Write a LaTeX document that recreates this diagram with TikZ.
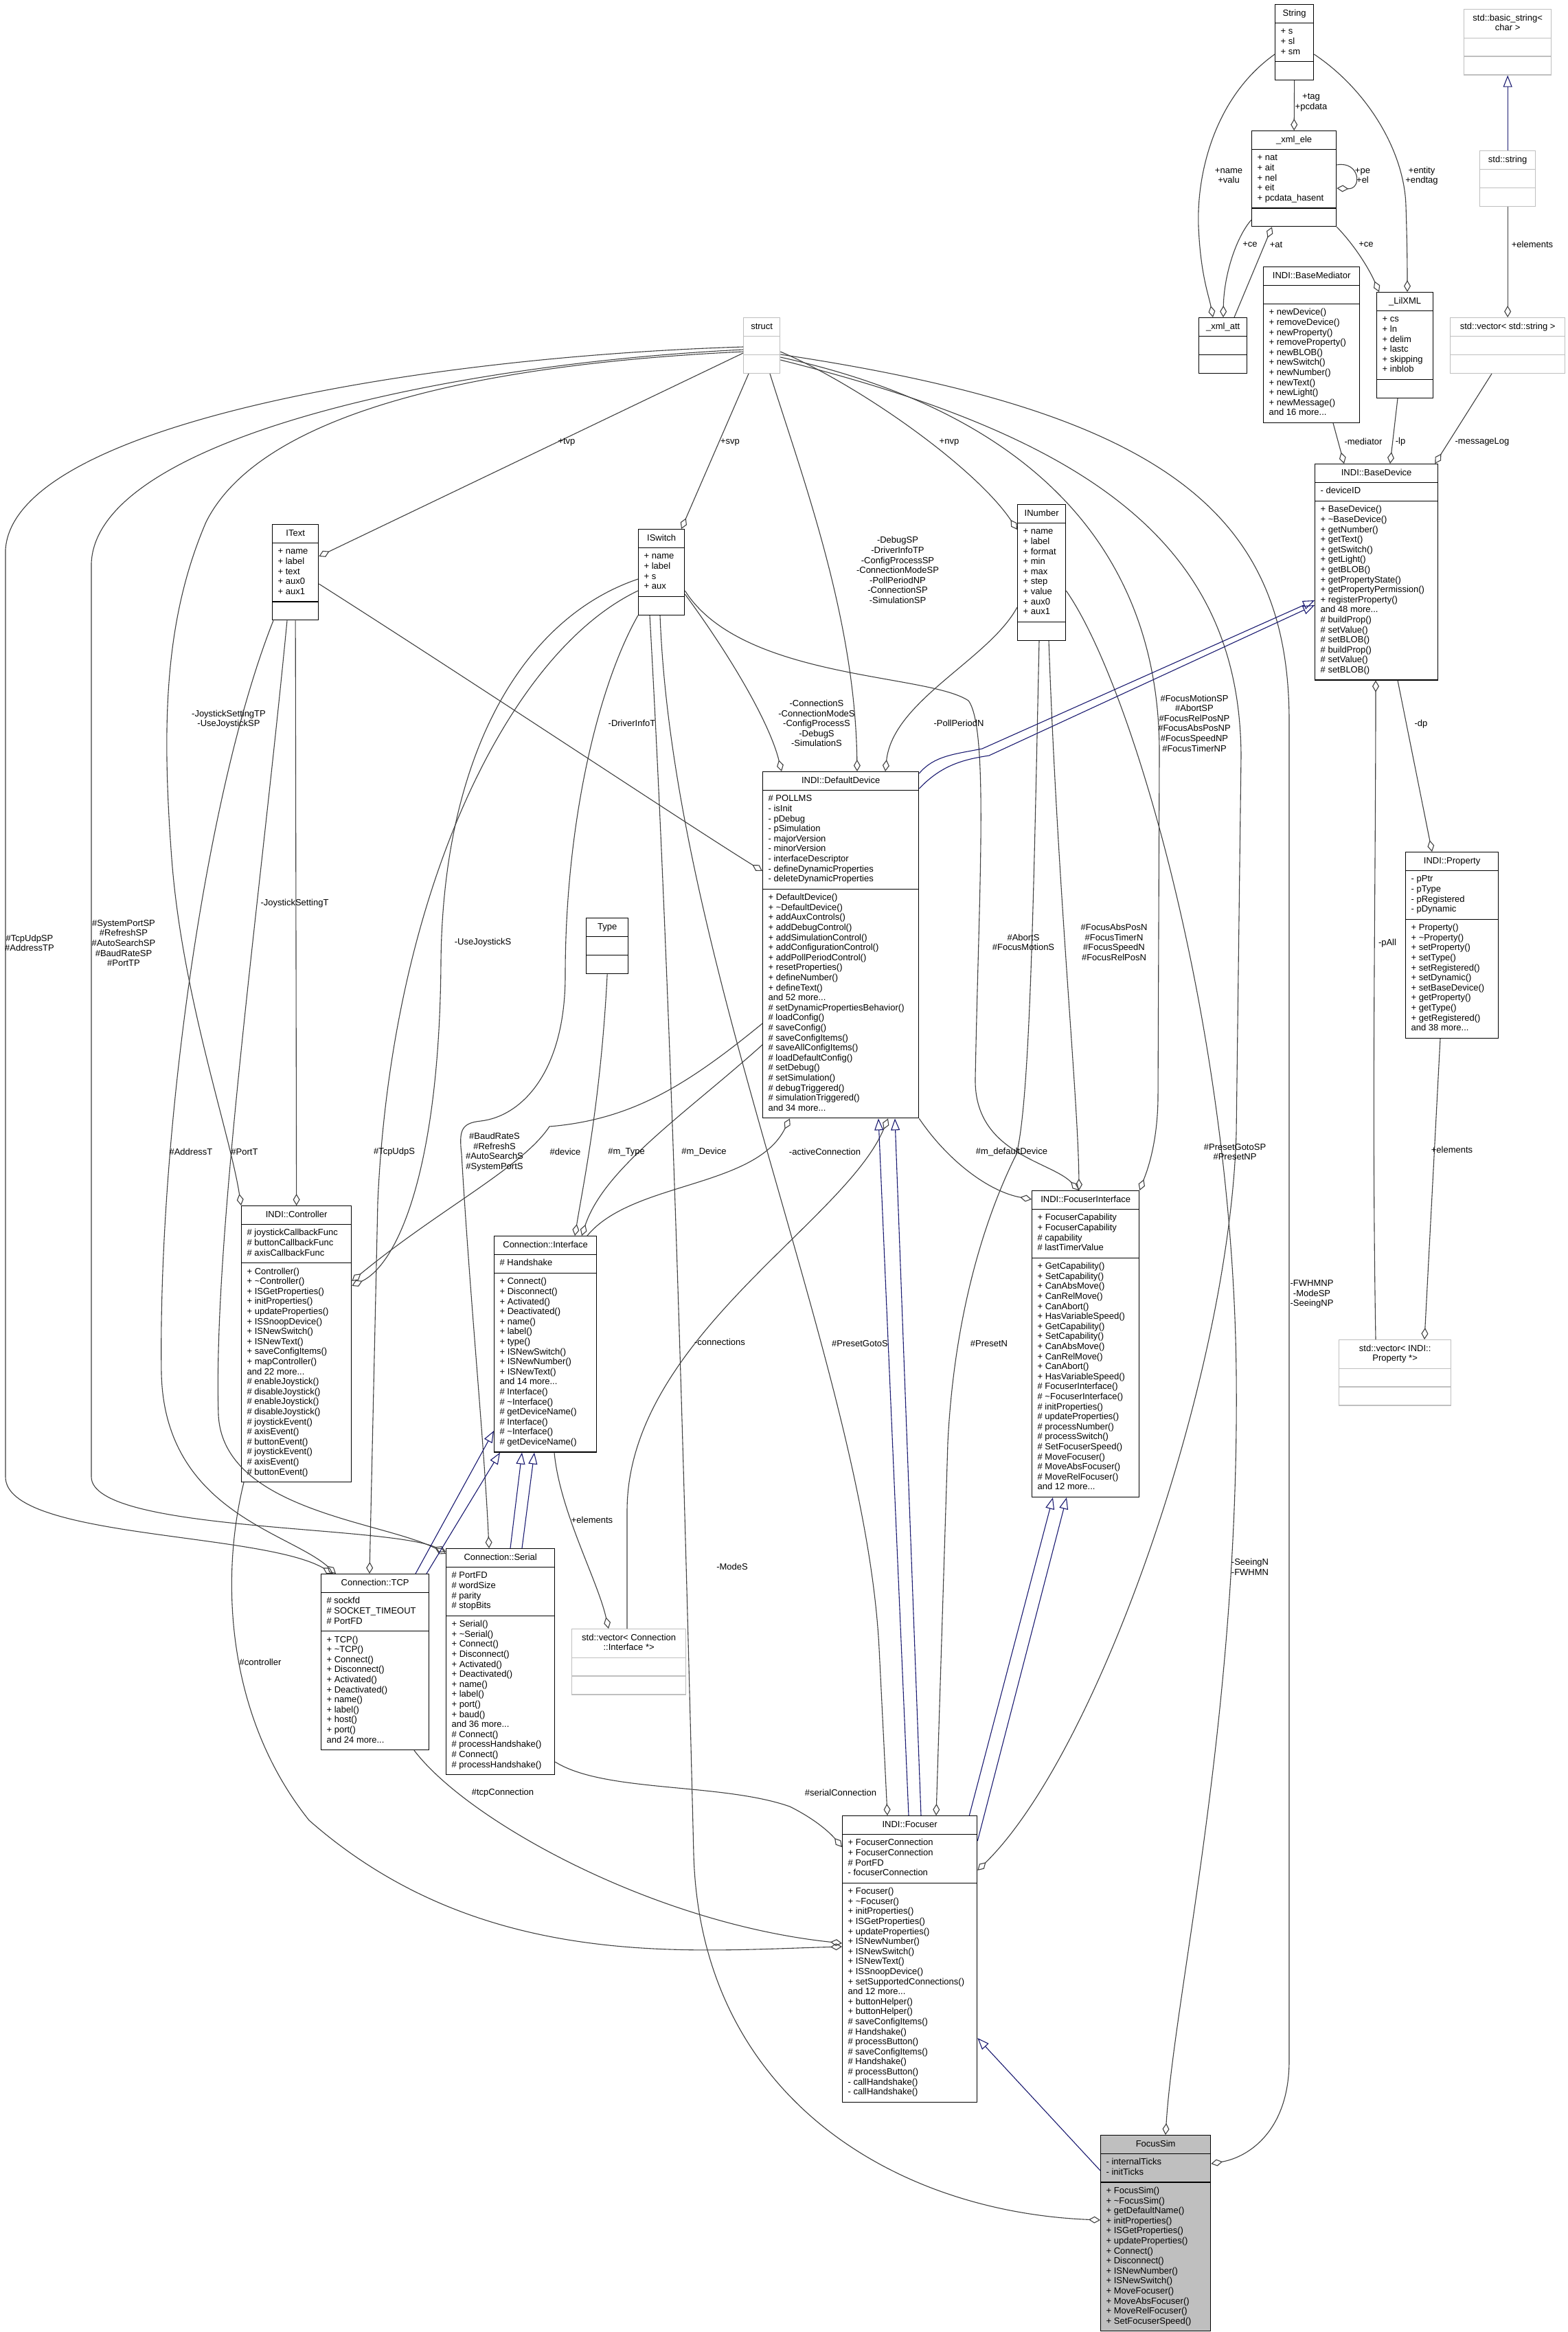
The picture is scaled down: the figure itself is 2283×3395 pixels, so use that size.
\documentclass[tikz,border=0pt]{standalone}
\usepackage{fontspec}
\setmainfont{Liberation Sans}
\usetikzlibrary{shapes.multipart, arrows.meta, positioning}
\definecolor{edgegray}{RGB}{64, 64, 64}
\definecolor{undoc}{RGB}{191, 191, 191}
\definecolor{inhblue}{RGB}{25, 25, 112}
\definecolor{simfill}{RGB}{191, 191, 191}
\newcommand{\clsfont}{\fontsize{13}{14.6}\selectfont}
\newcommand{\tld}{\textasciitilde}

\tikzset{
    classbox/.style={rectangle split, rectangle split parts=3, rectangle split part align={center,left,left}, draw=black, line width=1.3pt, fill=white, anchor=north west, inner xsep=8pt, inner ysep=5.5pt, align=left, font=\clsfont},
    extbox/.style={classbox, draw=undoc},
    simbox/.style={classbox, fill=simfill},
    member/.style={draw=edgegray, line width=1.1pt, -{Diamond[open, length=17pt, width=10pt]}},
    inherit/.style={draw=inhblue, line width=1.1pt, -{Triangle[open, length=17pt, width=13pt]}},
    role/.style={font=\clsfont, align=center, inner sep=0pt}
}

\begin{document}
\begin{tikzpicture}[x=1pt, y=-1pt]
    \useasboundingbox (0,0) rectangle (2283,3395);
    \fill[white] (0,0) rectangle (2283,3395);

    % Classes, top row
    \node[classbox, minimum width=56pt] (string) at (1856,6) {\strut String \nodepart{two}\strut + s\\+ sl\\+ sm\strut \nodepart{three}\strut};
    \node[classbox, minimum width=123pt] (xmlele) at (1822,190) {\strut \_xml\_ele \nodepart{two}\strut + nat\\+ ait\\+ nel\\+ eit\\+ pcdata\_hasent\strut \nodepart{three}\strut};
    \node[classbox, minimum width=70pt] (xmlatt) at (1745,462) {\strut \_xml\_att \nodepart{two}\strut \nodepart{three}\strut};
    \node[classbox, minimum width=140pt] (basemediator) at (1839,388) {\strut INDI::BaseMediator \nodepart{two}\strut \nodepart{three}\strut + newDevice()\\+ removeDevice()\\+ newProperty()\\+ removeProperty()\\+ newBLOB()\\+ newSwitch()\\+ newNumber()\\+ newText()\\+ newLight()\\+ newMessage()\\and 16 more...\strut};
    \node[classbox, minimum width=82pt] (lilxml) at (2004,425) {\strut \_LilXML \nodepart{two}\strut + cs\\+ ln\\+ delim\\+ lastc\\+ skipping\\+ inblob\strut \nodepart{three}\strut};
    \node[extbox, align=center, minimum width=127pt] (basicstring) at (2131,13) {\strut std::basic\_string<\\char >\strut \nodepart{two}\strut \nodepart{three}\strut};
    \node[extbox, minimum width=81pt] (stdstring) at (2154,219) {\strut std::string \nodepart{two}\strut \nodepart{three}\strut};
    \node[extbox, minimum width=167pt] (vecstring) at (2111,462) {\strut std::vector< std::string > \nodepart{two}\strut \nodepart{three}\strut};
    \node[extbox, minimum width=53pt] (struct) at (1082,462) {\strut struct \nodepart{two}\strut \nodepart{three}\strut};

    % Property classes
    \node[classbox, minimum width=67pt] (itext) at (396,763) {\strut IText \nodepart{two}\strut + name\\+ label\\+ text\\+ aux0\\+ aux1\strut \nodepart{three}\strut};
    \node[classbox, minimum width=67pt] (iswitch) at (929,770) {\strut ISwitch \nodepart{two}\strut + name\\+ label\\+ s\\+ aux\strut \nodepart{three}\strut};
    \node[classbox, minimum width=70pt] (inumber) at (1481,734) {\strut INumber \nodepart{two}\strut + name\\+ label\\+ format\\+ min\\+ max\\+ step\\+ value\\+ aux0\\+ aux1\strut \nodepart{three}\strut};

    \node[classbox, minimum width=179pt] (basedevice) at (1914,675) {\strut INDI::BaseDevice \nodepart{two}\strut - deviceID \nodepart{three}\strut + BaseDevice()\\+ \tld BaseDevice()\\+ getNumber()\\+ getText()\\+ getSwitch()\\+ getLight()\\+ getBLOB()\\+ getPropertyState()\\+ getPropertyPermission()\\+ registerProperty()\\and 48 more...\\\# buildProp()\\\# setValue()\\\# setBLOB()\\\# buildProp()\\\# setValue()\\\# setBLOB()\strut};
    \node[classbox, minimum width=135pt] (property) at (2046,1240) {\strut INDI::Property \nodepart{two}\strut - pPtr\\- pType\\- pRegistered\\- pDynamic\strut \nodepart{three}\strut + Property()\\+ \tld Property()\\+ setProperty()\\+ setType()\\+ setRegistered()\\+ setDynamic()\\+ setBaseDevice()\\+ getProperty()\\+ getType()\\+ getRegistered()\\and 38 more...\strut};
    \node[extbox, align=center, minimum width=163pt] (vecproperty) at (1949,1950) {\strut std::vector< INDI::\\Property *>\strut \nodepart{two}\strut \nodepart{three}\strut};

    \node[classbox, minimum width=227pt] (defaultdevice) at (1110,1123) {\strut INDI::DefaultDevice \nodepart{two}\strut \# POLLMS\\- isInit\\- pDebug\\- pSimulation\\- majorVersion\\- minorVersion\\- interfaceDescriptor\\- defineDynamicProperties\\- deleteDynamicProperties\strut \nodepart{three}\strut + DefaultDevice()\\+ \tld DefaultDevice()\\+ addAuxControls()\\+ addDebugControl()\\+ addSimulationControl()\\+ addConfigurationControl()\\+ addPollPeriodControl()\\+ resetProperties()\\+ defineNumber()\\+ defineText()\\and 52 more...\\\# setDynamicPropertiesBehavior()\\\# loadConfig()\\\# saveConfig()\\\# saveConfigItems()\\\# saveAllConfigItems()\\\# loadDefaultConfig()\\\# setDebug()\\\# setSimulation()\\\# debugTriggered()\\\# simulationTriggered()\\and 34 more...\strut};
    \node[classbox, minimum width=61pt] (type) at (853,1336) {\strut Type \nodepart{two}\strut \nodepart{three}\strut};

    % Middle row
    \node[classbox, minimum width=160pt] (controller) at (351,1755) {\strut INDI::Controller \nodepart{two}\strut \# joystickCallbackFunc\\\# buttonCallbackFunc\\\# axisCallbackFunc\strut \nodepart{three}\strut + Controller()\\+ \tld Controller()\\+ ISGetProperties()\\+ initProperties()\\+ updateProperties()\\+ ISSnoopDevice()\\+ ISNewSwitch()\\+ ISNewText()\\+ saveConfigItems()\\+ mapController()\\and 22 more...\\\# enableJoystick()\\\# disableJoystick()\\\# enableJoystick()\\\# disableJoystick()\\\# joystickEvent()\\\# axisEvent()\\\# buttonEvent()\\\# joystickEvent()\\\# axisEvent()\\\# buttonEvent()\strut};
    \node[classbox, minimum width=149pt] (interface) at (719,1799) {\strut Connection::Interface \nodepart{two}\strut \# Handshake \nodepart{three}\strut + Connect()\\+ Disconnect()\\+ Activated()\\+ Deactivated()\\+ name()\\+ label()\\+ type()\\+ ISNewSwitch()\\+ ISNewNumber()\\+ ISNewText()\\and 14 more...\\\# Interface()\\\# \tld Interface()\\\# getDeviceName()\\\# Interface()\\\# \tld Interface()\\\# getDeviceName()\strut};
    \node[classbox, minimum width=156pt] (focuserinterface) at (1502,1733) {\strut INDI::FocuserInterface \nodepart{two}\strut + FocuserCapability\\+ FocuserCapability\\\# capability\\\# lastTimerValue\strut \nodepart{three}\strut + GetCapability()\\+ SetCapability()\\+ CanAbsMove()\\+ CanRelMove()\\+ CanAbort()\\+ HasVariableSpeed()\\+ GetCapability()\\+ SetCapability()\\+ CanAbsMove()\\+ CanRelMove()\\+ CanAbort()\\+ HasVariableSpeed()\\\# FocuserInterface()\\\# \tld FocuserInterface()\\\# initProperties()\\\# updateProperties()\\\# processNumber()\\\# processSwitch()\\\# SetFocuserSpeed()\\\# MoveFocuser()\\\# MoveAbsFocuser()\\\# MoveRelFocuser()\\and 12 more...\strut};

    % Connections
    \node[classbox, minimum width=157pt] (tcp) at (467,2291) {\strut Connection::TCP \nodepart{two}\strut \# sockfd\\\# SOCKET\_TIMEOUT\\\# PortFD\strut \nodepart{three}\strut + TCP()\\+ \tld TCP()\\+ Connect()\\+ Disconnect()\\+ Activated()\\+ Deactivated()\\+ name()\\+ label()\\+ host()\\+ port()\\and 24 more...\strut};
    \node[classbox, minimum width=158pt] (serial) at (649,2254) {\strut Connection::Serial \nodepart{two}\strut \# PortFD\\\# wordSize\\\# parity\\\# stopBits\strut \nodepart{three}\strut + Serial()\\+ \tld Serial()\\+ Connect()\\+ Disconnect()\\+ Activated()\\+ Deactivated()\\+ name()\\+ label()\\+ port()\\+ baud()\\and 36 more...\\\# Connect()\\\# processHandshake()\\\# Connect()\\\# processHandshake()\strut};
    \node[extbox, align=center, minimum width=166pt] (vecconn) at (832,2371) {\strut std::vector< Connection\\::Interface *>\strut \nodepart{two}\strut \nodepart{three}\strut};

    % Focuser and simulator
    \node[classbox, minimum width=196pt] (focuser) at (1226,2643) {\strut INDI::Focuser \nodepart{two}\strut + FocuserConnection\\+ FocuserConnection\\\# PortFD\\- focuserConnection\strut \nodepart{three}\strut + Focuser()\\+ \tld Focuser()\\+ initProperties()\\+ ISGetProperties()\\+ updateProperties()\\+ ISNewNumber()\\+ ISNewSwitch()\\+ ISNewText()\\+ ISSnoopDevice()\\+ setSupportedConnections()\\and 12 more...\\+ buttonHelper()\\+ buttonHelper()\\\# saveConfigItems()\\\# Handshake()\\\# processButton()\\\# saveConfigItems()\\\# Handshake()\\\# processButton()\\- callHandshake()\\- callHandshake()\strut};
    \node[simbox, minimum width=160pt] (focussim) at (1602,3108) {\strut FocusSim \nodepart{two}\strut - internalTicks\\- initTicks\strut \nodepart{three}\strut + FocusSim()\\+ \tld FocusSim()\\+ getDefaultName()\\+ initProperties()\\+ ISGetProperties()\\+ updateProperties()\\+ Connect()\\+ Disconnect()\\+ ISNewNumber()\\+ ISNewSwitch()\\+ MoveFocuser()\\+ MoveAbsFocuser()\\+ MoveRelFocuser()\\+ SetFocuserSpeed()\strut};

    % XML helpers
    \draw[member] (string.south) -- (xmlele.north);
    \draw[member] ([yshift=-73pt]string.north west) .. controls (1770,140) and (1742,250) .. (1745,330) .. controls (1748,400) and (1760,430) .. ([xshift=21pt]xmlatt.north west);
    \draw[member] ([yshift=-73pt]string.north east) .. controls (1990,130) and (2045,220) .. (2047,300) .. controls (2049,360) and (2049,400) .. ([xshift=45pt]lilxml.north west);
    \draw[member] ([yshift=-50pt]xmlele.north east) .. controls (1980,234) and (1984,276) .. ([yshift=-84pt]xmlele.north east);
    \draw[member] ([yshift=-130pt]xmlele.north west) .. controls (1800,345) and (1782,400) .. ([xshift=36pt]xmlatt.north west);
    \draw[member] ([xshift=52pt]xmlatt.north west) -- ([xshift=30pt]xmlele.south west);
    \draw[member] (xmlele.south east) .. controls (1975,360) and (1995,395) .. ([xshift=4pt]lilxml.north west);
    \draw[inherit] (stdstring.north) -- (basicstring.south);
    \draw[member] (stdstring.south) -- (vecstring.north);

    % BaseDevice and Property
    \draw[member] ([xshift=102pt]basemediator.south west) -- ([xshift=43pt]basedevice.north west);
    \draw[member] ([xshift=31pt]lilxml.south west) -- ([xshift=110pt]basedevice.north west);
    \draw[member] ([xshift=61pt]vecstring.south west) -- ([xshift=-5pt]basedevice.north east);
    \draw[member] ([xshift=54pt]vecproperty.north west) .. controls (1997,1600) and (2003,1300) .. ([xshift=89pt]basedevice.south west);
    \draw[member] ([xshift=121pt]basedevice.south west) -- ([xshift=39pt]property.north west);
    \draw[member] ([xshift=51pt]property.south west) -- ([xshift=125pt]vecproperty.north west);

    % from struct
    \draw[member] ([yshift=-52pt]struct.north west) -- ([yshift=-47pt]itext.north east);
    \draw[member] ([xshift=8pt]struct.south west) -- ([xshift=63pt]iswitch.north west);
    \draw[member] ([yshift=-50pt]struct.north east) .. controls (1250,560) and (1420,680) .. ([yshift=-37pt]inumber.north west);
    \draw[member] ([xshift=39pt]struct.south west) .. controls (1170,700) and (1245,900) .. ([xshift=138pt]defaultdevice.north west);
    \draw[member] ([yshift=-50pt]struct.north west) .. controls (700,530) and (380,600) .. (300,760) .. controls (240,900) and (235,1050) .. (250,1250) .. controls (265,1450) and (335,1650) .. (controller.north west);
    \draw[member] ([yshift=-43pt]struct.north west) .. controls (600,520) and (20,620) .. (8,800) -- (8,2150) .. controls (8,2240) and (380,2230) .. ([xshift=18pt]tcp.north west);
    \draw[member] ([yshift=-47pt]struct.north west) .. controls (650,530) and (140,640) .. (133,820) -- (133,2150) .. controls (133,2230) and (560,2220) .. ([yshift=-5pt]serial.north west);
    \draw[member] ([yshift=-58pt]struct.north east) .. controls (1500,600) and (1690,800) .. (1688,1100) -- (1686,1600) .. controls (1685,1670) and (1668,1710) .. (focuserinterface.north east);
    \draw[member] ([yshift=-62pt]struct.north east) .. controls (1600,640) and (1805,800) .. (1807,1100) -- (1800,1650) .. controls (1790,2000) and (1600,2550) .. ([yshift=-80pt]focuser.north east);
    \draw[member] ([yshift=-54pt]struct.north east) .. controls (1700,600) and (1877,750) .. (1877,1050) -- (1877,3000) .. controls (1877,3100) and (1820,3140) .. ([yshift=-42pt]focussim.north east);

    % from IText
    \draw[member] (itext.south) -- (controller.north);
    \draw[member] ([xshift=2pt]itext.south west) .. controls (300,1150) and (230,1650) .. (235,2000) .. controls (240,2200) and (420,2230) .. ([xshift=22pt]tcp.north west);
    \draw[member] ([xshift=22pt]itext.south west) .. controls (380,1300) and (310,1800) .. (318,2060) .. controls (325,2200) and (560,2215) .. ([yshift=-8pt]serial.north west);
    \draw[member] ([yshift=-87pt]itext.north east) .. controls (700,1000) and (1000,1200) .. ([yshift=-145pt]defaultdevice.north west);

    % from ISwitch
    \draw[member] ([yshift=-73pt]iswitch.north west) .. controls (760,900) and (645,1100) .. (642,1400) .. controls (640,1700) and (580,1840) .. ([yshift=-117pt]controller.north east);
    \draw[member] ([yshift=-90pt]iswitch.north west) .. controls (740,950) and (570,1300) .. (550,1750) -- ([xshift=71pt]tcp.north west);
    \draw[member] (iswitch.south west) .. controls (870,1000) and (823,1200) .. (823,1420) .. controls (823,1560) and (760,1625) .. (700,1632) .. controls (672,1635) and (668,1645) .. (672,1680) .. controls (685,1900) and (705,2100) .. ([xshift=63pt]serial.north west);
    \draw[member] ([yshift=-95pt]iswitch.north east) .. controls (1060,950) and (1120,1050) .. ([xshift=28pt]defaultdevice.north west);
    \draw[member] ([yshift=-90pt]iswitch.north east) .. controls (1080,990) and (1350,980) .. (1410,1020) .. controls (1440,1060) and (1425,1300) .. (1420,1570) .. controls (1418,1680) and (1530,1690) .. ([xshift=69pt]focuserinterface.north west);
    \draw[member] ([xshift=32pt]iswitch.south west) .. controls (980,1400) and (1260,2000) .. (1280,2400) .. controls (1285,2500) and (1290,2600) .. ([xshift=66pt]focuser.north west);
    \draw[member] ([xshift=17pt]iswitch.south west) .. controls (980,1500) and (1000,2300) .. (1010,2700) .. controls (1020,3050) and (1300,3220) .. ([yshift=-124pt]focussim.north west);

    % from INumber
    \draw[member] ([yshift=-150pt]inumber.north west) .. controls (1440,960) and (1300,1020) .. ([xshift=179pt]defaultdevice.north west);
    \draw[member] ([xshift=46pt]inumber.south west) .. controls (1540,1300) and (1570,1600) .. ([xshift=69pt]focuserinterface.north west);
    \draw[member] ([xshift=32pt]inumber.south west) .. controls (1505,1300) and (1500,1600) .. (1480,1680) .. controls (1440,1760) and (1390,1900) .. (1380,2100) -- ([xshift=137pt]focuser.north west);
    \draw[member] ([yshift=-126pt]inumber.north east) .. controls (1650,1000) and (1795,1500) .. (1800,2000) .. controls (1805,2500) and (1710,2900) .. ([xshift=95pt]focussim.north west);

    % from DefaultDevice
    \draw[member] (defaultdevice.south east) .. controls (1380,1690) and (1440,1735) .. ([yshift=-13pt]focuserinterface.north west);
    \draw[member] ([yshift=-367pt]defaultdevice.north west) .. controls (1000,1580) and (920,1630) .. (800,1640) .. controls (760,1700) and (640,1760) .. ([yshift=-110pt]controller.north east);
    \draw[member] ([yshift=-398pt]defaultdevice.north west) .. controls (1000,1620) and (880,1700) .. ([xshift=128pt]interface.north west);

    % Connection classes
    \draw[member] ([xshift=136pt]interface.north west) .. controls (920,1720) and (1100,1730) .. ([xshift=40pt]defaultdevice.south west);
    \draw[member] ([xshift=81pt]vecconn.north west) -- (913,2200) .. controls (913,1950) and (1230,1780) .. ([xshift=183pt]defaultdevice.south west);
    \draw[member] (type.south) .. controls (875,1600) and (850,1720) .. ([xshift=118pt]interface.north west);
    \draw[member] ([xshift=88pt]interface.south west) .. controls (815,2200) and (870,2300) .. ([xshift=54pt]vecconn.north west);
    \draw[member] ([xshift=4pt]controller.south west) .. controls (320,2300) and (330,2500) .. (450,2650) .. controls (700,2870) and (1000,2840) .. ([yshift=-191pt]focuser.north west);
    \draw[member] ([xshift=136pt]tcp.south west) .. controls (680,2650) and (950,2800) .. ([yshift=-186pt]focuser.north west);
    \draw[member] ([yshift=-311pt]serial.north east) .. controls (880,2610) and (1050,2595) .. (1150,2630) .. controls (1190,2650) and (1210,2670) .. ([yshift=-46pt]focuser.north west);

    % Inheritance
    \draw[inherit] ([xshift=138pt]tcp.north west) -- ([yshift=-284pt]interface.north west);
    \draw[inherit] ([xshift=154pt]tcp.north west) -- ([xshift=9pt]interface.south west);
    \draw[inherit] ([xshift=94pt]serial.north west) -- ([xshift=41pt]interface.south west);
    \draw[inherit] ([xshift=111pt]serial.north west) -- ([xshift=59pt]interface.south west);
    \draw[inherit] ([xshift=97pt]focuser.north west) -- ([xshift=169pt]defaultdevice.south west);
    \draw[inherit] ([xshift=115pt]focuser.north west) -- ([xshift=193pt]defaultdevice.south west);
    \draw[inherit] ([xshift=-12pt]focuser.north east) -- ([xshift=31pt]focuserinterface.south west);
    \draw[inherit] ([yshift=-37pt]focuser.north east) -- ([xshift=51pt]focuserinterface.south west);
    \draw[inherit] ([yshift=-52pt]focussim.north west) -- ([yshift=-324pt]focuser.north east);
    \draw[inherit] ([yshift=-3pt]defaultdevice.north east) .. controls (1360,1100) and (1390,1098) .. (1430,1090) -- ([yshift=-199pt]basedevice.north west);
    \draw[inherit] ([yshift=-25pt]defaultdevice.north east) .. controls (1370,1115) and (1400,1106) .. (1440,1100) -- ([yshift=-206pt]basedevice.north west);

    % Role labels
    \node[role] (tagL) at (1909,149) {+tag\\+pcdata};
    \node[role] (nameL) at (1789,256) {+name\\+valu};
    \node[role] (peL) at (1984,256) {+pe\\+el};
    \node[role] (entityL) at (2070,256) {+entity\\+endtag};
    \node[role] (ceL) at (1820,356) {+ce};
    \node[role] (atL) at (1858,356) {+at};
    \node[role] (ceRL) at (1989,356) {+ce};
    \node[role] (elemL) at (2231,356) {+elements};
    \node[role] (mediatorL) at (1985,643) {-mediator};
    \node[role] (lpL) at (2039,643) {-lp};
    \node[role] (msgL) at (2158,643) {-messageLog};
    \node[role] (dpL) at (2069,1054) {-dp};
    \node[role] (pAllL) at (2020,1373) {-pAll};
    \node[role] (propElemL) at (2114,1674) {+elements};
    \node[role] (tvpL) at (825,644) {+tvp};
    \node[role] (svpL) at (1063,644) {+svp};
    \node[role] (nvpL) at (1382,644) {+nvp};
    \node[role] (debugSPL) at (1307,830) {-DebugSP\\-DriverInfoTP\\-ConfigProcessSP\\-ConnectionModeSP\\-PollPeriodNP\\-ConnectionSP\\-SimulationSP};
    \node[role] (connSL) at (1189,1053) {-ConnectionS\\-ConnectionModeS\\-ConfigProcessS\\-DebugS\\-SimulationS};
    \node[role] (pollL) at (1396,1053) {-PollPeriodN};
    \node[role] (driverL) at (920,1053) {-DriverInfoT};
    \node[role] (motionSPL) at (1739,1053) {\#FocusMotionSP\\\#AbortSP\\\#FocusRelPosNP\\\#FocusAbsPosNP\\\#FocusSpeedNP\\\#FocusTimerNP};
    \node[role] (joySPL) at (333,1047) {-JoystickSettingTP\\-UseJoystickSP};
    \node[role] (tcpSPL) at (43,1373) {\#TcpUdpSP\\\#AddressTP};
    \node[role] (serSPL) at (180,1373) {\#SystemPortSP\\\#RefreshSP\\\#AutoSearchSP\\\#BaudRateSP\\\#PortTP};
    \node[role] (joyTL) at (429,1315) {-JoystickSettingT};
    \node[role] (useJoyL) at (703,1372) {-UseJoystickS};
    \node[role] (abortL) at (1490,1372) {\#AbortS\\\#FocusMotionS};
    \node[role] (absPosL) at (1622,1372) {\#FocusAbsPosN\\\#FocusTimerN\\\#FocusSpeedN\\\#FocusRelPosN};
    \node[role] (baudL) at (720,1677) {\#BaudRateS\\\#RefreshS\\\#AutoSearchS\\\#SystemPortS};
    \node[role] (addrL) at (278,1677) {\#AddressT};
    \node[role] (portL) at (356,1677) {\#PortT};
    \node[role] (tcpSL) at (574,1677) {\#TcpUdpS};
    \node[role] (deviceL) at (823,1677) {\#device};
    \node[role] (mTypeL) at (912,1677) {\#m\_Type};
    \node[role] (mDeviceL) at (1025,1677) {\#m\_Device};
    \node[role] (activeL) at (1201,1677) {-activeConnection};
    \node[role] (mDefL) at (1473,1677) {\#m\_defaultDevice};
    \node[role] (presetSPL) at (1798,1677) {\#PresetGotoSP\\\#PresetNP};
    \node[role] (connsL) at (1048,1954) {-connections};
    \node[role] (gotoSL) at (1252,1956) {\#PresetGotoS};
    \node[role] (presetNL) at (1440,1956) {\#PresetN};
    \node[role] (fwhmSPL) at (1910,1884) {-FWHMNP\\-ModeSP\\-SeeingNP};
    \node[role] (ifElemL) at (862,2213) {+elements};
    \node[role] (modeSL) at (1066,2281) {-ModeS};
    \node[role] (seeingL) at (1820,2281) {-SeeingN\\-FWHMN};
    \node[role] (ctrlL) at (379,2420) {\#controller};
    \node[role] (tcpConnL) at (732,2610) {\#tcpConnection};
    \node[role] (serConnL) at (1224,2610) {\#serialConnection};
\end{tikzpicture}
\end{document}
